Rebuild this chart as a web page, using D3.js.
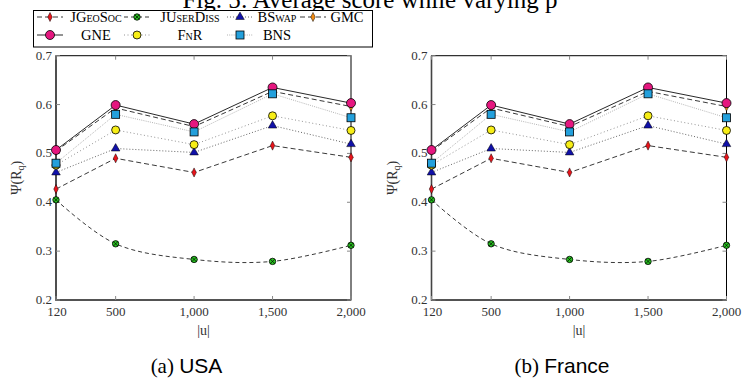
<!DOCTYPE html>
<html>
<head>
<meta charset="utf-8">
<script src="https://cdn.jsdelivr.net/npm/d3@7"></script>
<style>
  body { margin: 0; background: #fff; }
  svg { display: block; }
</style>
</head>
<body>
<div id="chart"></div>
<script>
// data
var userCounts = [120, 500, 1000, 1500, 2000];
var xTicks = [120, 500, 1000, 1500, 2000];
var yTicks = [0.2, 0.3, 0.4, 0.5, 0.6, 0.7];
var panelNames = ["(a)", "(b)"];
var panelCountries = ["USA", "France"];

var jGeoSoc   = [0.427, 0.490, 0.461, 0.516, 0.492];
var jUserDiss = [0.405, 0.315, 0.283, 0.279, 0.312];
var bSwap     = [0.461, 0.510, 0.502, 0.557, 0.519];
var gmc       = [0.505, 0.593, 0.555, 0.627, 0.596];
var gne       = [0.507, 0.599, 0.560, 0.635, 0.603];
var fnr       = [0.476, 0.548, 0.518, 0.577, 0.547];
var bns       = [0.480, 0.580, 0.544, 0.622, 0.573];

var series = [
    {name: "JGeoSoc",   values: jGeoSoc,   stroke: "#222", dash: "5,3", fill: "#e8141b", shape: "diamond", size: 24},
    {name: "JUserDiss", values: jUserDiss, stroke: "#222", dash: "4,3", fill: "#27c51f", shape: "otimes", size: 3.2, smooth: true},
    {name: "BSwap",     values: bSwap,     stroke: "#555", dash: "1,2", fill: "#1010a8", shape: "triangle", size: 32},
    {name: "GMC",       values: gmc,       stroke: "#222", dash: "5,3", fill: "#f08a12", shape: "diamond", size: 24},
    {name: "GNE",       values: gne,       stroke: "#111", dash: null,  fill: "#e5177f", shape: "circle", size: 4.5},
    {name: "FnR",       values: fnr,       stroke: "#888", dash: "1,2.5", fill: "#f7ee16", shape: "circle", size: 4},
    {name: "BNS",       values: bns,       stroke: "#aaa", dash: "1,1.2", fill: "#23a0dc", shape: "square", size: 8}
];

var w = 743, h = 387;
var svg = d3.select("#chart").append("svg")
    .attr("width", w)
    .attr("height", h);

var serif = "'Liberation Serif', 'DejaVu Serif', serif";
var sans = "'Liberation Sans', 'DejaVu Sans', sans-serif";

// title, cut by the top edge in the original
svg.append("text")
    .attr("x", 370)
    .attr("y", 8)
    .attr("text-anchor", "middle")
    .style("font-family", serif)
    .style("font-size", "25px")
    .text("Fig. 5: Average score while varying p");

function drawMarker(g, s, cx, cy) {
    if (s.shape === "circle") {
        g.append("circle")
            .attr("cx", cx).attr("cy", cy).attr("r", s.size)
            .attr("fill", s.fill).attr("stroke", "#000").attr("stroke-width", 0.8);
    } else if (s.shape === "otimes") {
        g.append("circle")
            .attr("cx", cx).attr("cy", cy).attr("r", s.size)
            .attr("fill", s.fill).attr("stroke", "#000").attr("stroke-width", 0.8);
        var d = s.size * 0.7;
        g.append("path")
            .attr("d", "M" + (cx - d) + "," + (cy - d) + "L" + (cx + d) + "," + (cy + d) +
                       "M" + (cx - d) + "," + (cy + d) + "L" + (cx + d) + "," + (cy - d))
            .attr("stroke", "#000").attr("stroke-width", 0.7);
    } else if (s.shape === "square") {
        g.append("rect")
            .attr("x", cx - s.size / 2).attr("y", cy - s.size / 2)
            .attr("width", s.size).attr("height", s.size)
            .attr("fill", s.fill).attr("stroke", "#000").attr("stroke-width", 0.8);
    } else {
        var sym = s.shape === "diamond" ? d3.symbolDiamond : d3.symbolTriangle;
        g.append("path")
            .attr("d", d3.symbol().type(sym).size(s.size)())
            .attr("transform", "translate(" + cx + "," + cy + ")" + (s.shape === "diamond" ? "scale(0.85,1)" : ""))
            .attr("fill", s.fill).attr("stroke", "#000").attr("stroke-width", 0.5);
    }
}

function drawPanel(left, idx) {
    var x = d3.scaleLinear().domain([120, 2000]).range([left, left + 295]);
    var y = d3.scaleLinear().domain([0.2, 0.7]).range([300, 55.7]);

    var g = svg.append("g");

    // frame
    g.append("rect")
        .attr("x", x(120)).attr("y", y(0.7))
        .attr("width", x(2000) - x(120)).attr("height", y(0.2) - y(0.7))
        .attr("fill", "none").attr("stroke", "#000").attr("stroke-width", 1);
    g.append("path")
        .attr("d", "M" + x(120) + "," + y(0.7) + "V" + y(0.2) + "H" + x(2000))
        .attr("fill", "none").attr("stroke", "#444").attr("stroke-width", 1.6);

    // inner ticks
    yTicks.forEach(function (t) {
        g.append("line").attr("x1", x(120)).attr("x2", x(120) + 4)
            .attr("y1", y(t)).attr("y2", y(t)).attr("stroke", "#888");
        g.append("line").attr("x1", x(2000)).attr("x2", x(2000) - 4)
            .attr("y1", y(t)).attr("y2", y(t)).attr("stroke", "#888");
        g.append("text")
            .attr("x", x(120) - 4).attr("y", y(t) + 4)
            .attr("text-anchor", "end")
            .style("font-family", serif).style("font-size", "13px").attr("fill", "#333")
            .text(d3.format(".1f")(t));
    });
    xTicks.forEach(function (t) {
        g.append("line").attr("x1", x(t)).attr("x2", x(t))
            .attr("y1", y(0.7)).attr("y2", y(0.7) + 4).attr("stroke", "#888");
        g.append("line").attr("x1", x(t)).attr("x2", x(t))
            .attr("y1", y(0.2)).attr("y2", y(0.2) - 4).attr("stroke", "#888");
        g.append("text")
            .attr("x", x(t) + (t === 120 ? 1 : 0)).attr("y", y(0.2) + 16)
            .attr("text-anchor", "middle")
            .style("font-family", serif).style("font-size", "13px").attr("fill", "#333")
            .text(d3.format(",")(t));
    });

    // axis titles
    g.append("text")
        .attr("transform", "translate(" + (x(120) - 35) + "," + ((y(0.7) + y(0.2)) / 2) + ")rotate(-90)")
        .attr("text-anchor", "middle")
        .style("font-family", serif).style("font-size", "14px").attr("fill", "#333")
        .html("Ψ(R<tspan dy='3' font-size='10px'>q</tspan><tspan dy='-3'>)</tspan>");
    g.append("text")
        .attr("x", (x(120) + x(2000)) / 2).attr("y", y(0.2) + 35)
        .attr("text-anchor", "middle")
        .style("font-family", serif).style("font-size", "14px").attr("fill", "#333")
        .text("|u|");

    // lines
    series.forEach(function (s) {
        var line = d3.line()
            .x(function (d, i) { return x(userCounts[i]); })
            .y(function (d) { return y(d); })
            .curve(s.smooth ? d3.curveCatmullRom.alpha(0.5) : d3.curveLinear);
        g.append("path")
            .attr("d", line(s.values))
            .attr("fill", "none")
            .attr("stroke", s.stroke)
            .attr("stroke-width", 0.9)
            .attr("stroke-dasharray", s.dash);
    });
    // markers
    series.forEach(function (s) {
        s.values.forEach(function (v, i) {
            drawMarker(g, s, x(userCounts[i]), y(v));
        });
    });

    // caption
    var cap = g.append("text")
        .attr("x", (x(120) + x(2000)) / 2 - 17).attr("y", 373)
        .attr("text-anchor", "middle")
        .style("font-size", "21px");
    cap.append("tspan").style("font-family", serif).text(panelNames[idx] + " ");
    cap.append("tspan").style("font-family", sans).text(panelCountries[idx]);
}

drawPanel(56, 0);
drawPanel(431.5, 1);

// legend
var legend = svg.append("g");
legend.append("rect")
    .attr("x", 33.5).attr("y", 10.5).attr("width", 339).attr("height", 36.5)
    .attr("fill", "#fff").attr("stroke", "#000").attr("stroke-width", 1);

var symCenters = [50, 137, 240, 313];
var textCenters = [96, 190, 277, 347];
var rowsY = [17, 35];
series.forEach(function (s, i) {
    var col = i < 4 ? i : i - 4;
    var row = i < 4 ? 0 : 1;
    var cx = symCenters[col], cy = rowsY[row];
    legend.append("line")
        .attr("x1", cx - 13).attr("x2", cx + 13)
        .attr("y1", cy).attr("y2", cy)
        .attr("stroke", s.stroke).attr("stroke-width", 0.9)
        .attr("stroke-dasharray", s.dash);
    drawMarker(legend, s, cx, cy);
    legend.append("text")
        .attr("x", textCenters[col]).attr("y", cy + 5)
        .attr("text-anchor", "middle")
        .style("font-family", serif).style("font-size", "14.5px")
        .style("font-variant", "small-caps")
        .text(s.name);
});
</script>
</body>
</html>
